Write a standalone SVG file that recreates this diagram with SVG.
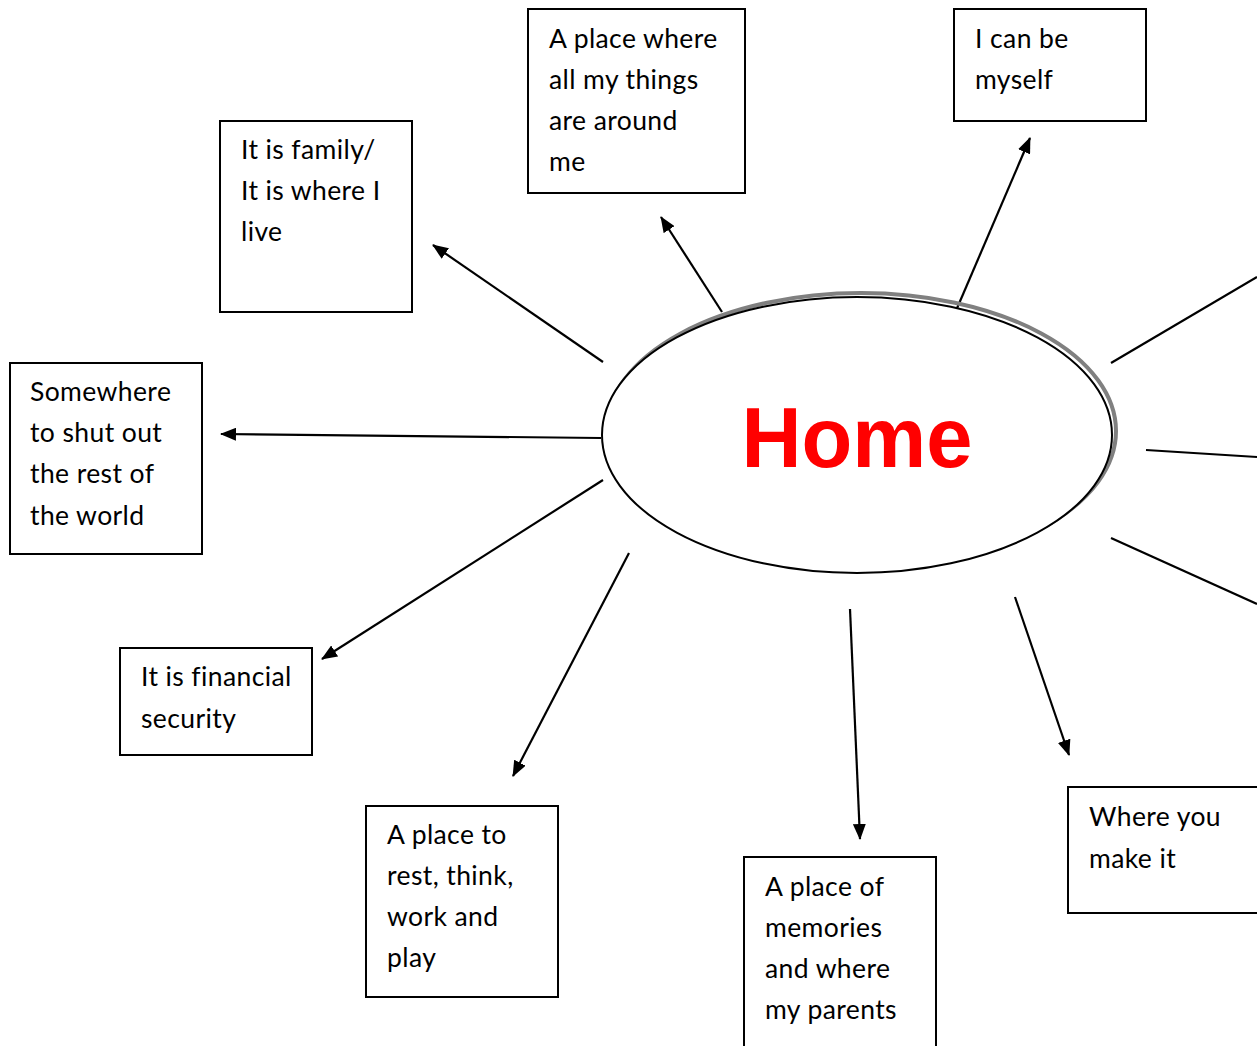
<svg xmlns="http://www.w3.org/2000/svg" width="1257" height="1046" viewBox="0 0 1257 1046">
<style>
.box{fill:#fff;stroke:#000;stroke-width:2}
.t{font-family:Lato,"Open Sans","Liberation Sans",sans-serif;font-size:26.5px;letter-spacing:0.4px;font-variant-ligatures:none;fill:#000}
.c{stroke:#000;stroke-width:2.2;fill:none}
.ca{stroke:#000;stroke-width:2.2;fill:none;marker-end:url(#ah)}
</style>
<defs>
<marker id="ah" viewBox="0 0 16 13" refX="15" refY="6.5" markerWidth="16" markerHeight="13" markerUnits="userSpaceOnUse" orient="auto">
<path d="M0,0 L16,6.5 L0,13 z" fill="#000"/>
</marker>
</defs>
<rect width="1257" height="1046" fill="#fff"/>
<g id="connectors">
<line class="ca" x1="603" y1="362" x2="433" y2="245"/>
<line class="ca" x1="722" y1="312" x2="661" y2="217"/>
<line class="ca" x1="955" y1="313" x2="1030" y2="138"/>
<line class="c" x1="1111" y1="363" x2="1257" y2="277"/>
<line class="c" x1="1146" y1="450" x2="1257" y2="457"/>
<line class="c" x1="1111" y1="538" x2="1257" y2="604"/>
<line class="ca" x1="601" y1="438" x2="221" y2="434"/>
<line class="ca" x1="603" y1="480" x2="322" y2="659"/>
<line class="ca" x1="629" y1="553" x2="513" y2="776"/>
<line class="ca" x1="850" y1="609" x2="860" y2="839"/>
<line class="ca" x1="1015" y1="597" x2="1069" y2="755"/>
</g>
<g id="home">
<ellipse cx="861" cy="431" rx="255" ry="138" fill="none" stroke="#808080" stroke-width="4"/>
<ellipse cx="857" cy="435" rx="255" ry="138" fill="#fff" stroke="#000" stroke-width="2"/>
<text x="857" y="467" text-anchor="middle" font-family="'Liberation Sans',Arial,sans-serif" font-weight="bold" font-size="86" fill="#ff0000" textLength="231" lengthAdjust="spacingAndGlyphs">Home</text>
</g>
<g id="n-family">
<rect class="box" x="220" y="121" width="192" height="191"/>
<text class="t" x="241" y="159">It is family/</text>
<text class="t" x="241" y="200">It is where I</text>
<text class="t" x="241" y="241">live</text>
</g>
<g id="n-things">
<rect class="box" x="528" y="9" width="217" height="184"/>
<text class="t" x="549" y="48">A place where</text>
<text class="t" x="549" y="89">all my things</text>
<text class="t" x="549" y="130">are around</text>
<text class="t" x="549" y="171">me</text>
</g>
<g id="n-myself">
<rect class="box" x="954" y="9" width="192" height="112"/>
<text class="t" x="975" y="48">I can be</text>
<text class="t" x="975" y="89">myself</text>
</g>
<g id="n-shut">
<rect class="box" x="10" y="363" width="192" height="191"/>
<text class="t" x="30" y="401">Somewhere</text>
<text class="t" x="30" y="442">to shut out</text>
<text class="t" x="30" y="483">the rest of</text>
<text class="t" x="30" y="525">the world</text>
</g>
<g id="n-financial">
<rect class="box" x="120" y="648" width="192" height="107"/>
<text class="t" x="141" y="686">It is financial</text>
<text class="t" x="141" y="728">security</text>
</g>
<g id="n-rest">
<rect class="box" x="366" y="806" width="192" height="191"/>
<text class="t" x="387" y="844">A place to</text>
<text class="t" x="387" y="885">rest, think,</text>
<text class="t" x="387" y="926">work and</text>
<text class="t" x="387" y="967">play</text>
</g>
<g id="n-memories">
<rect class="box" x="744" y="857" width="192" height="200"/>
<text class="t" x="765" y="896">A place of</text>
<text class="t" x="765" y="937">memories</text>
<text class="t" x="765" y="978">and where</text>
<text class="t" x="765" y="1019">my parents</text>
</g>
<g id="n-make">
<rect class="box" x="1068" y="787" width="200" height="126"/>
<text class="t" x="1089" y="826">Where you</text>
<text class="t" x="1089" y="868">make it</text>
</g>
</svg>
